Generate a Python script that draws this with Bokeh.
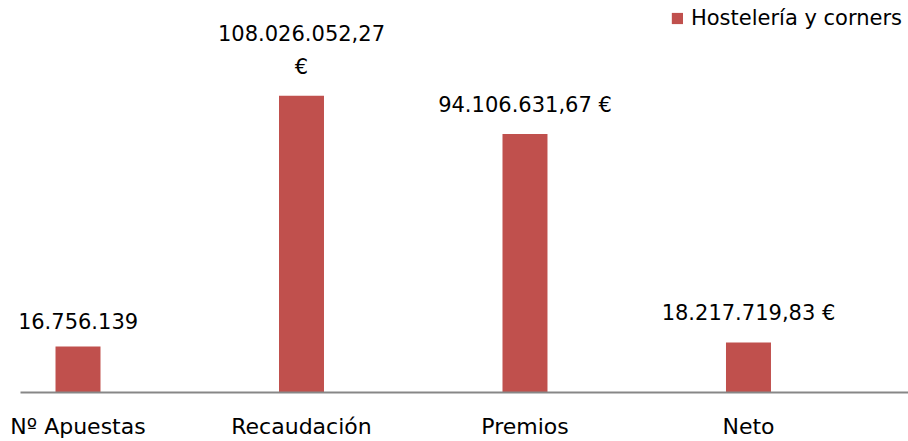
from bokeh.plotting import figure
from bokeh.models import ColumnDataSource, Range1d, FixedTicker
from bokeh.core.properties import value
from bokeh.embed import file_html
from bokeh.resources import INLINE

categories = ["Nº Apuestas", "Recaudación", "Premios", "Neto"]
values = [16756139, 108026052.27, 94106631.67, 18217719.83]
value_labels = ["16.756.139", "108.026.052,27\n€", "94.106.631,67 €", "18.217.719,83 €"]
series_name = "Hostelería y corners"

BAR = "#C0504D"
FONT = "DejaVu Sans"

xs = list(range(len(categories)))
src = ColumnDataSource(dict(x=xs, top=values, lab=value_labels))

p = figure(width=908, height=441, output_backend="svg", toolbar_location=None,
           x_range=Range1d(-0.2573, 3.716), y_range=Range1d(0, 142.7e6),
           min_border_left=20, min_border_right=0, min_border_top=0, min_border_bottom=44)
p.outline_line_color = None
p.xgrid.visible = False
p.ygrid.visible = False
p.yaxis.visible = False

p.vbar(x="x", top="top", width=0.2013, source=src, fill_color=BAR, line_color=None,
       legend_label=series_name)

p.text(x="x", y="top", text="lab", source=src, text_font=value(FONT), text_font_size="21px",
       text_color="#000000", text_align="center", text_baseline="bottom", y_offset=-17,
       text_line_height=1.35)

ax = p.xaxis[0]
ax.ticker = FixedTicker(ticks=xs)
ax.major_label_overrides = {i: c for i, c in enumerate(categories)}
ax.major_label_text_font = FONT
ax.major_label_text_font_size = "22px"
ax.major_label_text_line_height = 1.0
ax.major_label_text_color = "#000000"
ax.major_label_standoff = 15
ax.major_tick_line_color = None
ax.minor_tick_line_color = None
ax.axis_line_color = "#878787"
ax.axis_line_width = 2

lg = p.legend[0]
lg.location = "top_right"
lg.border_line_color = None
lg.background_fill_alpha = 0
lg.padding = 0
lg.margin = 6
lg.spacing = 0
lg.glyph_width = 14
lg.glyph_height = 14
lg.label_standoff = 7
lg.label_text_font = FONT
lg.label_text_font_size = "21px"
lg.label_text_color = "#000000"

open("out.html", "w").write(file_html(p, INLINE))
